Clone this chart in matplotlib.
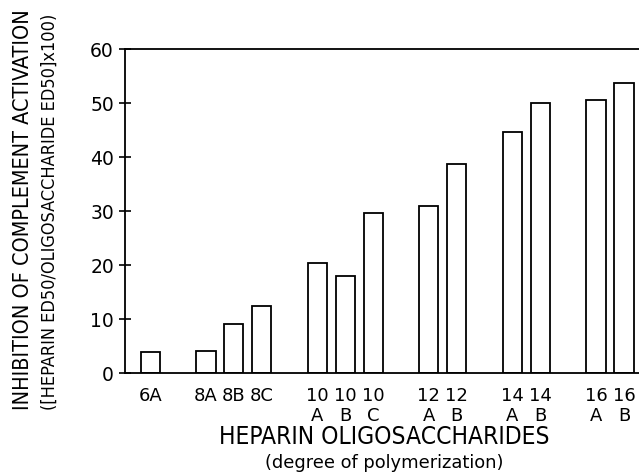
import matplotlib
matplotlib.use("Agg")
import matplotlib.pyplot as plt
from matplotlib import font_manager
from matplotlib.font_manager import FontProperties

# Data
categories = ["6A", "8A", "8B", "8C", "10\nA", "10\nB", "10\nC",
              "12\nA", "12\nB", "14\nA", "14\nB", "16\nA", "16\nB"]
slots = [0, 2, 3, 4, 6, 7, 8, 10, 11, 13, 14, 16, 17]
values = [4.0, 4.2, 9.1, 12.4, 20.4, 18.1, 29.6, 31.0, 38.8, 44.6, 50.1, 50.6, 53.7]
yticks = [0, 10, 20, 30, 40, 50, 60]

plt.rcParams['font.family'] = ['DejaVu Sans']
cpath = font_manager.findfont(FontProperties(family='DejaVu Sans', stretch='condensed'))
has_cond = 'Condensed' in cpath
stretch = 'condensed' if has_cond else 'normal'
k = 1 / 0.82 if has_cond else 1.0

fig = plt.figure(figsize=(6.39, 4.72), dpi=100)
ax = fig.add_axes([125/639, 98.7/472, 1 - 125/639 + 0.02, 324/472])

ax.bar(slots, values, width=0.69, facecolor="white", edgecolor="black", linewidth=1.3)

ax.set_xlim(-0.904, 18.0)
ax.set_ylim(0, 60)
ax.set_yticks(yticks)
ax.set_yticklabels([str(t) for t in yticks], fontsize=13.5)
ax.tick_params(axis='y', direction='inout', length=8, width=1.2, pad=4)
ax.set_xticks(slots)
ax.set_xticklabels(categories, fontsize=13, linespacing=1.1)
ax.tick_params(axis='x', length=0, pad=10)
for s in ['left', 'bottom', 'top']:
    ax.spines[s].set_linewidth(1.3)
ax.spines['right'].set_visible(False)

fig.text(384/639, 1 - 437/472, "HEPARIN OLIGOSACCHARIDES", fontsize=14.5 * k,
         fontstretch=stretch, ha='center', va='center')
fig.text(384/639, 1 - 463/472, "(degree of polymerization)", fontsize=12.9,
         ha='center', va='center')
fig.text(23/639, 1 - 210/472, "INHIBITION OF COMPLEMENT ACTIVATION", fontsize=12.7 * k,
         fontstretch=stretch, rotation=90, ha='center', va='center')
fig.text(50/639, 1 - 211.5/472, "([HEPARIN ED50/OLIGOSACCHARIDE ED50]x100)", fontsize=10.6 * k,
         fontstretch=stretch, rotation=90, ha='center', va='center')

fig.savefig("out.png", dpi=100)
